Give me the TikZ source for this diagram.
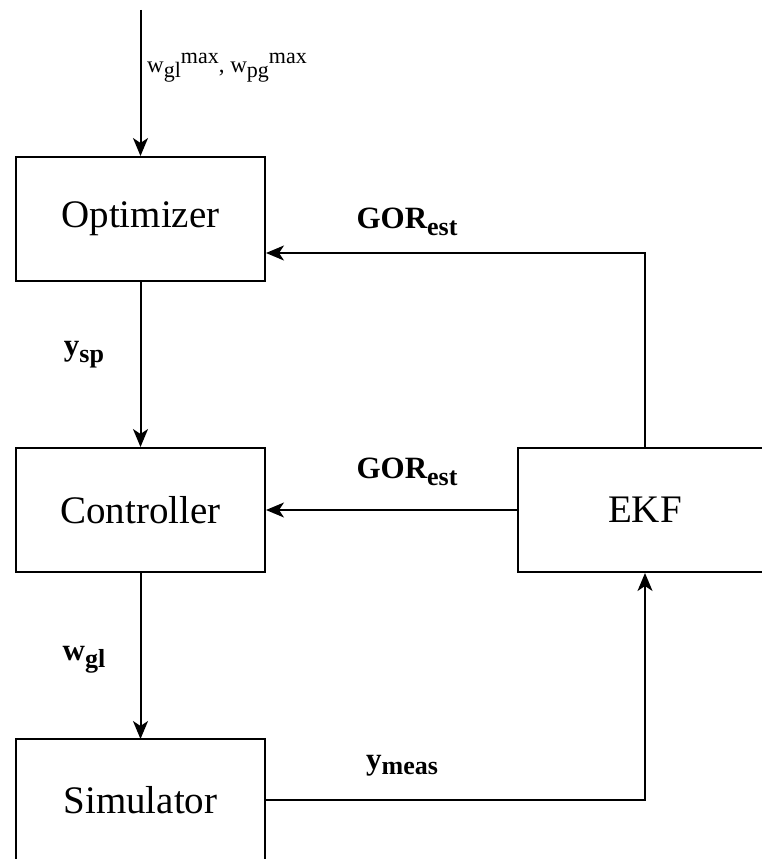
\documentclass[tikz,border=0pt]{standalone}
\usepackage{fontspec}
\setmainfont{Liberation Serif}
\usetikzlibrary{arrows.meta}

% lowered / raised indices, set in a given size
\newcommand\lowidx[3]{\raisebox{-#1}{\fontsize{#2}{#2}\selectfont #3}}
\newcommand\highidx[3]{\raisebox{#1}{\fontsize{#2}{#2}\selectfont #3}}

\tikzset{
  block/.style={draw=black, line width=2pt, minimum width=249pt, minimum height=124pt,
    inner sep=0pt, font=\fontsize{39}{39}\selectfont},
  flow/.style={draw=black, line width=2pt,
    -{Stealth[length=18pt, width=15pt, inset=5pt]}},
  sig/.style={font=\bfseries\fontsize{31}{31}\selectfont, inner sep=0pt},
}

\begin{document}
\begin{tikzpicture}[x=1pt, y=-1pt]
  \clip (0,0) rectangle (762,859);
  \fill[white] (0,0) rectangle (762,859);

  % blocks
  \node[block] (opt)  at (140.5,219)   {Optimizer};
  \node[block] (ctrl) at (140.5,510)   {Controller};
  \node[block, minimum width=254pt] (ekf) at (645,510) {EKF};
  % simulator block runs past the lower edge: only its text node and three sides
  \node[font=\fontsize{39}{39}\selectfont, inner sep=0pt] (sim) at (140.5,800) {Simulator};
  \coordinate (simN) at (140.5,739);
  \coordinate (simE) at (265,800);
  \draw[line width=2pt] (16,880) -- (16,739) -- (265,739) -- (265,880);

  % input and connectors
  \coordinate (in) at (140.5,10);
  \draw[flow] (in) -- (opt.north);
  \draw[flow] (opt.south) -- (ctrl.north);
  \draw[flow] (ctrl.south) -- (simN);
  \draw[flow] (ekf.west) -- (ctrl.east);
  \draw[flow] (ekf.north) |- ([yshift=-34pt]opt.east);
  \draw[flow] (simE) -| (ekf.south);

  % labels
  \node[anchor=west, inner sep=0pt, font=\fontsize{23}{23}\selectfont] (lim) at (147,68)
    {w\lowidx{5pt}{22}{gl}\highidx{9pt}{22}{max}, w\lowidx{5pt}{22}{pg}\highidx{9pt}{22}{max}};
  \node[sig] (ysp)  at (84,355)  {y\lowidx{7pt}{26}{sp}};
  \node[sig] (wgl)  at (84,660)  {w\lowidx{7pt}{26}{gl}};
  \node[sig] (gor1) at (407,222) {GOR\lowidx{7pt}{26}{est}};
  \node[sig] (gor2) at (407,472) {GOR\lowidx{7pt}{26}{est}};
  \node[sig] (ymeas) at (402,766) {y\lowidx{5pt}{26}{meas}};
\end{tikzpicture}
\end{document}
